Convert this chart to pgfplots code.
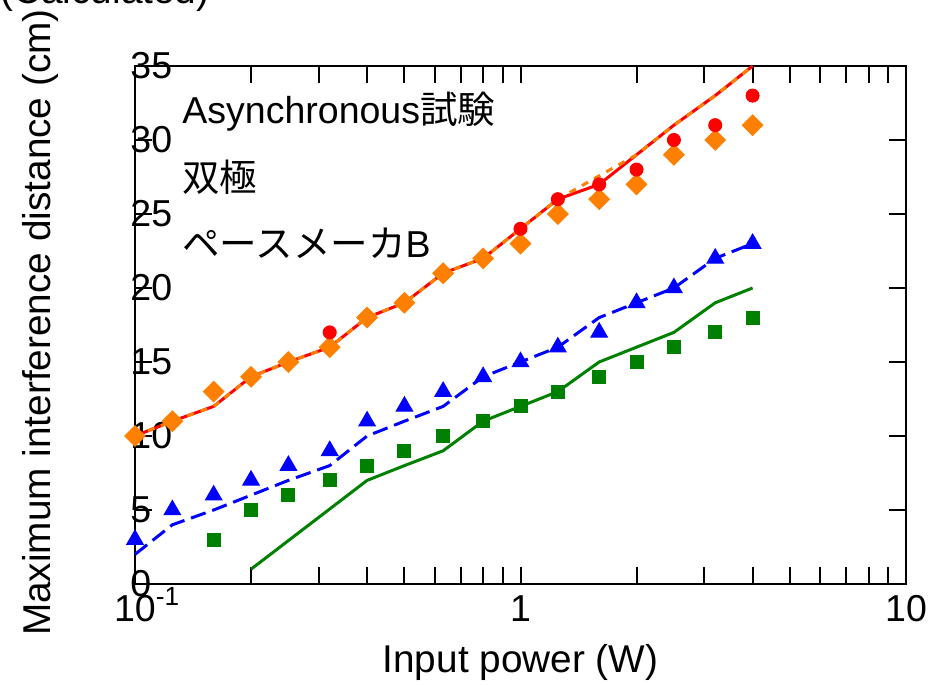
\documentclass[border=0pt]{standalone}
\usepackage{fontspec}
\setmainfont{Liberation Sans}
\newfontfamily\cjk{Noto Sans CJK JP}
\usepackage{pgfplots}
\pgfplotsset{compat=1.18}

\definecolor{cred}{RGB}{255,0,0}
\definecolor{corange}{RGB}{255,128,0}
\definecolor{cblue}{RGB}{0,0,255}
\definecolor{cgreen}{RGB}{0,128,0}

\newcommand{\fs}{\fontsize{15}{18}\selectfont}
\newcommand{\fl}{\fontsize{15.5}{18.6}\selectfont}

\begin{document}
\begin{tikzpicture}[font=\fs]
\begin{semilogxaxis}[
    scale only axis,
    width=308.4pt, height=207.2pt,
    xmin=0.1, xmax=10,
    ymin=0, ymax=35,
    axis line style={line width=1pt},
    xtick={0.1,1,10},
    xticklabels={10\rlap{\smash{\raisebox{0.42em}{\fontsize{10.5}{12}\selectfont -1}}},1,10},
    minor xtick={0.2,0.3,0.4,0.5,0.6,0.7,0.8,0.9,2,3,4,5,6,7,8,9},
    ytick={0,5,10,15,20,25,30,35},
    yticklabels={0,5,10,15,20,25,30,35},
    tick align=inside,
    xtick pos=both, ytick pos=both,
    major tick length=6.8pt, minor tick length=6.8pt,
    every tick/.style={black, line width=0.8pt},
    every minor tick/.style={black, line width=0.8pt},
    tick label style={font=\fs},
    xticklabel style={anchor=north, inner sep=0pt, yshift=-4.4pt},
    yticklabel style={anchor=west, inner sep=0pt, xshift=-2pt},
    xlabel={Input power (W)},
    ylabel={Maximum interference distance (cm)},
    label style={font=\fl},
    xlabel style={at={(axis description cs:0.5,-0.1515)}, anchor=center},
    ylabel style={at={(axis description cs:-0.1232,0.5048)}, anchor=center},
    clip=false,
]

% orange diamonds
\addplot[only marks, mark=square*, mark size=2.9pt, color=corange,
    mark options={rotate=45}] coordinates {
    (0.1,10) (0.125,11) (0.16,13) (0.2,14) (0.25,15) (0.32,16) (0.4,18)
    (0.5,19) (0.63,21) (0.8,22) (1,23) (1.25,25) (1.6,26) (2,27)
    (2.5,29) (3.2,30) (4,31)
};
% red circles
\addplot[only marks, mark=*, mark size=2.6pt, color=cred] coordinates {
    (0.32,17) (1,24) (1.25,26) (1.6,27) (2,28) (2.5,30) (3.2,31) (4,33)
};
% blue triangles
\addplot[only marks, mark=triangle*, mark size=3.8pt, color=cblue] coordinates {
    (0.1,3) (0.125,5) (0.16,6) (0.2,7) (0.25,8) (0.32,9) (0.4,11)
    (0.5,12) (0.63,13) (0.8,14) (1,15) (1.25,16) (1.6,17) (2,19)
    (2.5,20) (3.2,22) (4,23)
};
% green squares
\addplot[only marks, mark=square*, mark size=2.6pt, color=cgreen] coordinates {
    (0.16,3) (0.2,5) (0.25,6) (0.32,7) (0.4,8) (0.5,9) (0.63,10)
    (0.8,11) (1,12) (1.25,13) (1.6,14) (2,15) (2.5,16) (3.2,17) (4,18)
};

% red solid line
\addplot[cred, line width=1.2pt, mark=none] coordinates {
    (0.1,10) (0.125,11) (0.16,12) (0.2,14) (0.25,15) (0.32,16) (0.4,18)
    (0.5,19) (0.63,21) (0.8,22) (1,24) (1.25,26) (1.6,27) (2,29)
    (2.5,31) (3.2,33) (4,35)
};
% orange dashed line
\addplot[corange, line width=1.2pt, mark=none, dash pattern=on 2.8pt off 2.8pt] coordinates {
    (0.1,10) (0.125,11) (0.16,12) (0.2,14) (0.25,15) (0.32,16) (0.4,18)
    (0.5,19) (0.63,21) (0.8,22) (1,24) (1.25,26) (2,29)
    (2.5,31) (3.2,33) (4,35)
};
% blue dashed line
\addplot[cblue, line width=1.2pt, mark=none, dash pattern=on 6.2pt off 2.8pt] coordinates {
    (0.1,2) (0.125,4) (0.16,5) (0.2,6) (0.25,7) (0.32,8) (0.4,10)
    (0.5,11) (0.63,12) (0.8,14) (1,15) (1.25,16) (1.6,18) (2,19)
    (2.5,20) (3.2,22) (4,23)
};
% green solid line
\addplot[cgreen, line width=1.2pt, mark=none] coordinates {
    (0.2,1) (0.4,7) (0.5,8) (0.63,9) (0.8,11) (1,12) (1.25,13)
    (1.6,15) (2,16) (2.5,17) (3.2,19) (4,20)
};

\node[anchor=base west, inner sep=0pt] at (axis cs:0.1324,31.08) {Asynchronous{\cjk 試験}};
\node[anchor=base west, inner sep=0pt] at (axis cs:0.1324,26.55) {\cjk 双極};
\node[anchor=base west, inner sep=0pt] at (axis cs:0.1324,22.03) {{\cjk ペースメーカ}B};
\node[anchor=base west, inner sep=0pt, font=\fl] at (axis description cs:-0.175,1.1197) {(Calculated)};
\end{semilogxaxis}
\pgfresetboundingbox
\path[use as bounding box] ([shift={(-54pt,-40.4pt)}]current axis.south west)
    rectangle ([shift={(11.2pt,26.4pt)}]current axis.north east);
\end{tikzpicture}
\end{document}
